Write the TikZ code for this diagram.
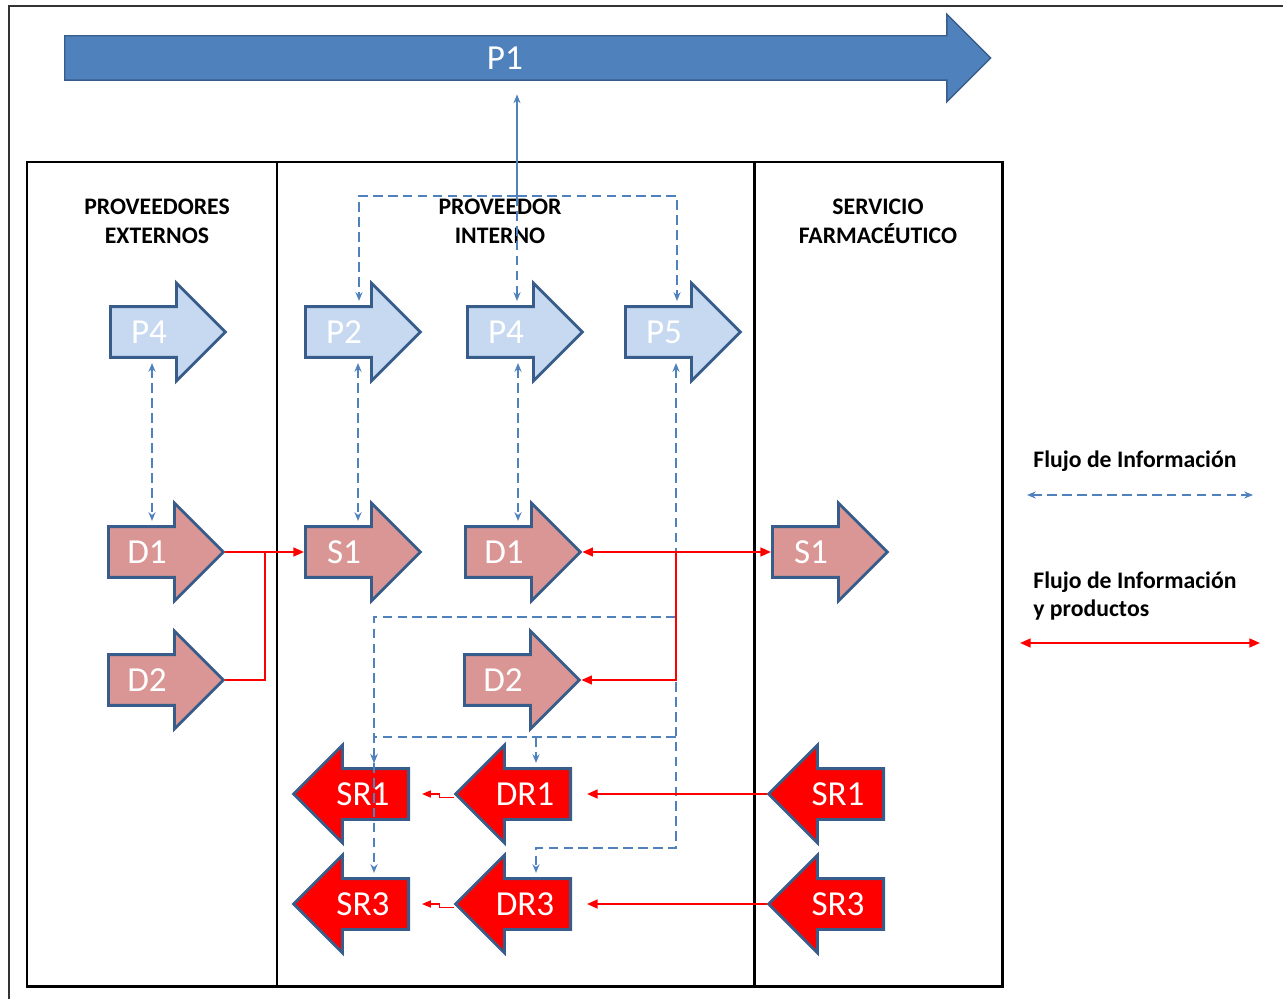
\documentclass[tikz,border=0pt]{standalone}
\usepackage{fontspec}
\setmainfont{Carlito}
\usetikzlibrary{arrows.meta,shapes.arrows,calc}
\definecolor{darkblue}{HTML}{385D8A}
\definecolor{midblue}{HTML}{4F81BD}
\definecolor{paleblue}{HTML}{C6D9F1}
\definecolor{rose}{HTML}{D99694}
\definecolor{redflow}{HTML}{FF0000}

\begin{document}
\begin{tikzpicture}[
  x=0.02cm, y=-0.02cm,
  frame/.style={line width=1.7pt},
  blockarrow/.style={single arrow, draw=darkblue, line width=1.6pt, anchor=tail,
    single arrow head extend=0.47cm, single arrow tip angle=90,
    minimum height=2.3cm, inner xsep=0pt, inner ysep=0.275cm,
    text height=0.41cm, text depth=0pt},
  plan/.style={blockarrow, fill=paleblue},
  supply/.style={blockarrow, fill=rose},
  ret/.style={blockarrow, fill=redflow, shape border rotate=180},
  mainarrow/.style={single arrow, draw=darkblue, fill=midblue, line width=0.8pt,
    anchor=tail, single arrow head extend=0.43cm, single arrow tip angle=90,
    minimum height=18.52cm, inner xsep=0pt, inner ysep=0.225cm,
    text height=0.41cm, text depth=0pt},
  lbl/.style={text=white, inner sep=0pt, font=\fontsize{20}{20}\selectfont},
  header/.style={align=center, font=\fontsize{13.5}{16.4}\selectfont\bfseries},
  legend/.style={anchor=west, align=left, inner sep=0pt,
    font=\fontsize{13.5}{16}\selectfont\bfseries},
  info/.style={midblue, line width=0.9pt, dash pattern=on 5.5pt off 3pt,
    shorten >=4pt, >={Stealth[length=5pt,width=4pt]}},
  flow/.style={redflow, line width=1.1pt, >={Triangle[length=6pt,width=5pt]}},
  flowthin/.style={redflow, line width=0.7pt, >={Triangle[length=5pt,width=4pt]}}
]
\useasboundingbox (0,0) rectangle (1283,999);
% marco
\draw[black!80, line width=0.8pt] (1283,6) -- (9,6) -- (9,999);
\draw[frame] (27,162) rectangle (1002,986);
\draw[frame] (277,162) -- (277,986);
\draw[frame] (754,162) -- (754,986);

% cabeceras
\node[header] (hExt) at (157,221) {PROVEEDORES\\EXTERNOS};
\node[header] (hInt) at (500,221) {PROVEEDOR\\INTERNO};
\node[header] (hSer) at (878,221) {SERVICIO\\FARMACÉUTICO};

% procesos (at = cola de la flecha)
\node[mainarrow] (P1) at (64,58) {};
\node[plan] (P4e) at (109,332) {};
\node[plan] (P2) at (304,332) {};
\node[plan] (P4i) at (466,332) {};
\node[plan] (P5) at (624,332) {};
\node[supply] (D1e) at (107,552) {};
\node[supply] (S1i) at (304,552) {};
\node[supply] (D1i) at (464,552) {};
\node[supply] (S1s) at (771,552) {};
\node[supply] (D2e) at (107,680) {};
\node[supply] (D2i) at (463,680) {};
\node[ret] (SR1i) at (410,794) {};
\node[ret] (DR1) at (572,794) {};
\node[ret] (SR1s) at (885,794) {};
\node[ret] (SR3i) at (410,904) {};
\node[ret] (DR3) at (572,904) {};
\node[ret] (SR3s) at (885,904) {};

% etiquetas
\node[lbl] (lP1) at ([xshift=8.82cm]P1.tail) {P1};
\foreach \n/\t in {P4e/P4,P2/P2,P4i/P4,P5/P5,D1e/D1,S1i/S1,D1i/D1,S1s/S1,D2e/D2,D2i/D2}
  \node[lbl] (l\n) at ([xshift=0.8cm]\n.tail) {\t};
\foreach \n/\t in {SR1i/SR1,DR1/DR1,SR1s/SR1,SR3i/SR3,DR3/DR3,SR3s/SR3}
  \node[lbl] (l\n) at ([xshift=-0.94cm]\n.tail) {\t};

% flujo de informacion
\coordinate (bus) at (517,196);
\draw[midblue, line width=0.9pt, ->, >={Stealth[length=5pt,width=4pt]},
  shorten >=0.27cm] (bus) -- (bus |- P1.south);
\draw[info,->] (bus) -| ([shift={(55,-24)}]P2.tail);
\draw[info,->] (bus) -| ([shift={(53,-24)}]P5.tail);
\draw[info,->] (bus) -- ([shift={(51,-24)}]P4i.tail);
\draw[info,<->,shorten <=4pt] ([shift={(43,24)}]P4e.tail) -- ([shift={(45,-24)}]D1e.tail);
\draw[info,<->,shorten <=4pt] ([shift={(54,24)}]P2.tail) -- ([shift={(54,-24)}]S1i.tail);
\draw[info,<->,shorten <=4pt] ([shift={(52,24)}]P4i.tail) -- ([shift={(54,-24)}]D1i.tail);
\coordinate (k1) at (536,848);
\coordinate (k2) at (536,737);
\coordinate (r1) at (676,617);
\coordinate (r2) at (676,737);
\draw[info,<->,shorten <=4pt] ([shift={(52,24)}]P5.tail) |- (k1) -- ([shift={(-36,-24)}]DR3.tail);
\draw[info,->] (r1) -| ([shift={(-36,-24)}]SR1i.tail);
\draw[info,->] (r1) -| ([shift={(-36,-24)}]SR3i.tail);
\draw[info,->] (r2) -| ([shift={(-36,-24)}]SR1i.tail);
\draw[info,->] (k2) -- ([shift={(-36,-24)}]DR1.tail);

% flujo de informacion y productos
\coordinate (j1) at (265,552);
\coordinate (r0) at (676,552);
\draw[flow,->] (D1e.tip) -- (S1i.tail);
\draw[flow] (D2e.tip) -| (j1);
\draw[flow,<->] (D1i.tip) -- (S1s.tail);
\draw[flow,->] (r0) |- (D2i.tip);
\draw[flow,->,shorten >=0.3cm] (SR1s.tip) -- (DR1.tail);
\draw[flow,->,shorten >=0.3cm] (SR3s.tip) -- (DR3.tail);
\draw[flowthin,->,shorten >=0.24cm] ([yshift=-0.07cm]DR1.tip) -- ++(-14,0) |- (SR1i.tail);
\draw[flowthin,->,shorten >=0.24cm] ([yshift=-0.07cm]DR3.tip) -- ++(-14,0) |- (SR3i.tail);

% leyenda
\node[legend] (lgInfo) at (1033,461) {Flujo de Información};
\coordinate (li1) at (1027,495);
\coordinate (li2) at (1253,495);
\draw[info,<->,shorten >=0pt] (li1) -- (li2);
\node[legend] (lgFlow) at (1033,596) {Flujo de Información\\y productos};
\coordinate (lf1) at (1020,643);
\coordinate (lf2) at (1260,643);
\draw[flow,<->] (lf1) -- (lf2);
\end{tikzpicture}
\end{document}
